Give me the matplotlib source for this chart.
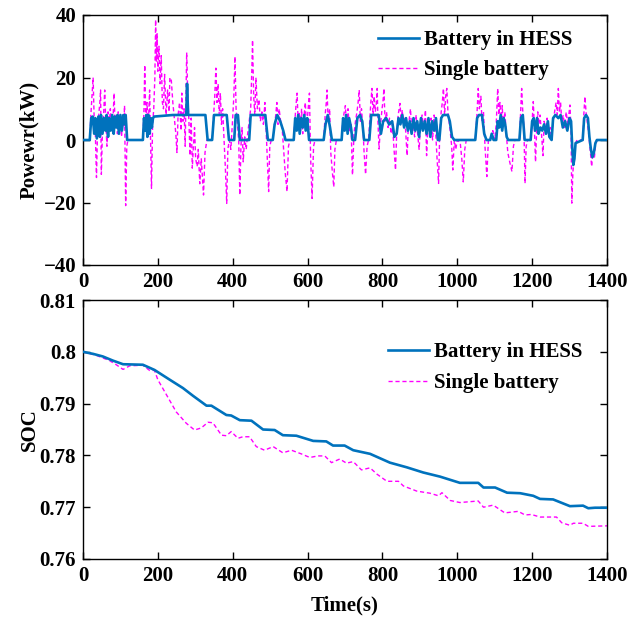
import matplotlib
matplotlib.use("Agg")
import matplotlib.pyplot as plt

# ---------------- data ----------------
hess_t = [0, 18, 22, 26, 30, 33, 37, 41, 45, 48, 52, 56, 60, 63, 67, 70, 74, 78, 82, 85, 89, 92, 96, 100,
          104, 108, 112, 114, 118, 160, 163, 166, 169, 172, 175, 178, 181, 184, 187, 190, 200, 240, 276,
          278, 281, 290, 327, 333, 345, 350, 384, 390, 404, 408, 414, 419, 444, 448, 487, 494, 507, 512,
          519, 527, 535, 541, 563, 567, 571, 575, 579, 583, 587, 591, 595, 599, 604, 643, 648, 654, 660,
          665, 691, 695, 699, 703, 707, 711, 716, 720, 727, 733, 740, 746, 751, 765, 770, 790, 796, 802,
          810, 818, 826, 832, 838, 843, 848, 853, 858, 863, 868, 873, 878, 883, 888, 893, 898, 903, 908,
          913, 918, 923, 928, 933, 938, 943, 948, 952, 957, 962, 975, 980, 986, 992, 1048, 1053, 1058,
          1066, 1072, 1078, 1088, 1092, 1097, 1104, 1108, 1112, 1116, 1120, 1124, 1128, 1132, 1136, 1166,
          1170, 1175, 1180, 1196, 1200, 1204, 1208, 1213, 1217, 1222, 1227, 1232, 1237, 1242, 1246, 1252,
          1256, 1262, 1270, 1276, 1282, 1288, 1294, 1300, 1304, 1307, 1310, 1313, 1316, 1335, 1339, 1344,
          1349, 1353, 1357, 1361, 1365, 1369, 1373, 1400]
hess_p = [0, 0, 7, 7.5, 2, 7, 0.5, 7.5, 1, 8, 2, 7, 3, 8, 1, 7, 3, 8, 2, 7.5, 4, 8, 2, 8,
          3, 8, 5, 8, 0, 0, 7, 3, 8, 1, 8, 2, 7, 4, 7, 7.5, 7.6, 8, 8,
          18, 8, 8, 8, 0, 0, 8, 8, 0, 0, 8, 8, 0, 0, 8, 8, 0, 0, 5,
          8, 6, 3, 0, 0, 7, 3, 8, 2, 7, 4, 8, 3, 7, 0, 0, 5, 8, 4,
          0, 0, 7, 3, 8, 2, 7, 4, 0, 0, 7, 8, 6, 0, 0, 8, 8, 2, 6,
          7, 5, 6, 1, 2, 7, 5, 8, 4, 7, 3, 6, 2, 7, 3, 6, 1, 7, 3,
          6, 2, 7, 1, 6, 3, 7, 0, 0, 7, 8, 8, 6, 1, 0, 0, 7, 8,
          8, 2, 0, 0, 2, 0, 0, 6, 4, 8, 3, 7, 5, 1, 0, 0,
          7, 8, 0, 0, 6, 7, 3, 7, 2, 4, 3, 5, 2, 6, 1, 0,
          7, 8, 7, 8, 4, 6, 3, 7, 6, -2, -8, -6, -1, 0, 7, 8,
          7, 1, -3, -5.5, -4, -1, 0, 0]

single_t = [0, 18, 21, 24, 27, 30, 33, 36, 39, 42, 45, 47, 49, 52, 55, 58, 61, 64, 67, 70, 73, 76, 79, 83,
            86, 89, 92, 94, 97, 100, 103, 106, 109, 111, 114, 117, 120, 160, 163, 165, 168, 171, 174, 178,
            183, 186, 189, 192, 194, 196, 198, 200, 203, 206, 209, 212, 215, 218, 222, 226, 230, 232, 236,
            240, 244, 248, 251, 254, 258, 262, 264, 267, 270, 273, 277, 280, 283, 286, 289, 292, 295, 298,
            301, 305, 308, 312, 316, 319, 322, 326, 331, 345, 349, 352, 355, 358, 361, 364, 367, 370, 373,
            376, 380, 384, 387, 391, 395, 399, 403, 406, 409, 412, 416, 419, 422, 425, 428, 432, 436, 440,
            444, 448, 451, 453, 456, 459, 462, 466, 470, 474, 478, 482, 486, 489, 492, 496, 499, 503, 507,
            511, 515, 518, 521, 524, 528, 532, 536, 540, 545, 549, 553, 563, 566, 569, 572, 575, 578, 581,
            584, 587, 590, 594, 597, 601, 605, 608, 612, 616, 620, 643, 647, 650, 652, 655, 659, 662, 666,
            670, 673, 677, 691, 694, 698, 701, 704, 708, 712, 716, 720, 724, 728, 732, 735, 738, 741, 744,
            748, 751, 755, 759, 763, 766, 769, 772, 775, 778, 781, 784, 786, 788, 791, 795, 799, 802, 804,
            807, 811, 815, 819, 823, 827, 831, 835, 838, 842, 847, 850, 853, 857, 860, 863, 866, 869, 872,
            875, 878, 882, 886, 890, 894, 898, 902, 906, 910, 915, 918, 922, 926, 930, 934, 938, 942, 946,
            950, 953, 957, 960, 963, 966, 969, 972, 975, 978, 981, 985, 988, 992, 996, 1000, 1008, 1012,
            1016, 1020, 1024, 1048, 1052, 1056, 1059, 1063, 1066, 1070, 1074, 1079, 1083, 1090, 1095, 1100,
            1104, 1108, 1111, 1114, 1117, 1120, 1123, 1127, 1131, 1135, 1140, 1146, 1150, 1154, 1166, 1169,
            1172, 1175, 1178, 1181, 1184, 1188, 1196, 1200, 1203, 1206, 1209, 1212, 1215, 1218, 1221, 1225,
            1229, 1232, 1236, 1240, 1244, 1248, 1252, 1256, 1260, 1264, 1267, 1270, 1273, 1276, 1279, 1283,
            1287, 1291, 1295, 1298, 1301, 1304, 1306, 1309, 1312, 1316, 1320, 1336, 1338, 1341, 1344, 1348,
            1351, 1355, 1359, 1362, 1366, 1370, 1374, 1400]
single_p = [0, 0, 8, 14, 20, 6, 2, -12, 4, 8, 12, 16, -11, 3, 8, 16, 5, -2, 9, 4, 10, 6, 3, 15,
            4, 8, 2, 9, 3, 6, 1, 8, 4, 11, -21, -2, 0, 0, 10, 24, 5, 12, 3, 16,
            -15.5, 5, 10, 20, 38.5, 25, 34, 22, 30, 18, 27, 12, 10, 21, 8, 16, 9, 20, 19,
            12, 7, 2, -4, 8, 12, 3, 15, 6, 10, -2, 28, 14, 6, -5, 7, -9, -2, 4,
            -6, -8.5, -3, -14, -6, -12, -17.6, -4, 0, 0, 8, 14, 23, 12, 18, 8, 15, 5, 10,
            2, -8, -20.3, -3, 0, -3, 5, 14, 26.7, 10, 6, 0, -17.6, -2, 4, -7, 1, -3, 2,
            6, 10, 22, 32, 14, 8, 20, 10, 13, 6, 9, 5, 12, 4, -5, -16.5, -2, 0, 0,
            4, 8, 12, 5, 10, 6, 4, -3, -10, -16.5, -2, 0, 0, 6, 11, 15, 5, 9, 3,
            10, 2, 7, 12, 4, 9, 15, -5, -18.7, -2, 0, 0, 8, 12, 16, 6, 10, -4, -10,
            -15, -3, 0, 0, 6, 9, 11, 4, 10, 3, 5, -11.2, 2, 6, 9, 12, 16, 6, 10,
            4, -4, -11, -2, 0, 6, 12, 16.5, 8, 14, 9, 12, 16.5, 6, -2.9, 5, 10, 13, 16.5,
            6, 9, 4, 7, 2, 5, -3, -9.6, 2, 8, 11.7, 6, 9.6, 4, 7, 1, -5, 4, 7,
            10, 3, 6, 1, 8, 2, -3, 5, 8, 3, 9.6, -5, 6, 2, 7, 0, 8, 3, -6,
            -13.9, 2, 9, 12, 16.5, 8, 14, 16.5, 9, 6, 3, -2, -9.6, 0, -3, 0, -1, -6,
            -13.4, -3, 0, 0, 7, 16.5, 10, 14, 6, 9, -2, -11.7, 0, 1, 3, 0,
            5, 16.5, 8, 12, 6, 11, 4, 9, 2, -4, -7, -10.1, -2, 0, 0, 8,
            16.5, 9, 4, -13.9, -2, 0, 0, 6, 12.3, 4, -7, 3, 9, 5, 8, 2,
            -5, 6, 3, 7, 1, 4, 0, 6, 9, 12, 8, 16.5, 9, 12, 6, 8,
            4, 9, 5, 8, 11.2, 3, -20.2, -10, -6, -1, 0, 0, 8, 13.9, 9, 5,
            2, -3, -8.5, -4, -6, -1, 0, 0]

soc_hess_t = [0, 27, 53, 80, 107, 160, 191, 232, 267, 294, 330, 343, 383, 396, 419, 450, 481, 512, 534,
              570, 615, 650, 668, 699, 722, 767, 820, 865, 909, 954, 1007, 1056, 1070, 1101, 1133, 1168,
              1203, 1221, 1256, 1301, 1336, 1350, 1368, 1400]
soc_hess = [0.8000, 0.7996, 0.7991, 0.7983, 0.7976, 0.7975, 0.7965, 0.7946, 0.7930, 0.7915, 0.7896,
            0.7896, 0.7878, 0.7877, 0.7868, 0.7867, 0.7850, 0.7849, 0.7839, 0.7838, 0.7828, 0.7827,
            0.7819, 0.7819, 0.7810, 0.7803, 0.7786, 0.7777, 0.7767, 0.7759, 0.7747, 0.7747, 0.7738,
            0.7738, 0.7728, 0.7727, 0.7722, 0.7716, 0.7715, 0.7702, 0.7703, 0.7698, 0.7699, 0.7699]

soc_single_t = [0, 36, 71, 89, 107, 125, 160, 178, 191, 200, 223, 249, 276, 298, 316, 334, 347, 370, 383,
                396, 414, 427, 445, 463, 485, 508, 534, 557, 583, 606, 628, 646, 664, 686, 704, 722, 744,
                767, 785, 812, 843, 856, 892, 927, 950, 959, 981, 1007, 1056, 1070, 1096, 1127, 1163,
                1181, 1198, 1221, 1265, 1279, 1301, 1310, 1336, 1350, 1400]
soc_single = [0.8000, 0.7993, 0.7983, 0.7975, 0.7966, 0.7973, 0.7974, 0.7964, 0.7964, 0.7946, 0.7917,
              0.7884, 0.7862, 0.7849, 0.7853, 0.7864, 0.7863, 0.7839, 0.7838, 0.7846, 0.7833, 0.7836,
              0.7836, 0.7817, 0.7810, 0.7817, 0.7805, 0.7810, 0.7803, 0.7796, 0.7799, 0.7799, 0.7786,
              0.7793, 0.7785, 0.7788, 0.7772, 0.7776, 0.7764, 0.7750, 0.7750, 0.7741, 0.7731, 0.7727,
              0.7722, 0.7728, 0.7713, 0.7709, 0.7712, 0.7700, 0.7704, 0.7689, 0.7692, 0.7685, 0.7686,
              0.7681, 0.7681, 0.7670, 0.7665, 0.7669, 0.7669, 0.7663, 0.7664]

labels = ["Battery in HESS", "Single battery"]
x_ticks = [0, 200, 400, 600, 800, 1000, 1200, 1400]
p_ticks = [-40, -20, 0, 20, 40]
soc_ticks = [0.76, 0.77, 0.78, 0.79, 0.80, 0.81]
soc_tick_labels = ["0.76", "0.77", "0.78", "0.79", "0.8", "0.81"]

# ---------------- style ----------------
plt.rcParams['font.family'] = ['Liberation Serif', 'DejaVu Serif']
plt.rcParams['font.weight'] = 'bold'
plt.rcParams['font.size'] = 15
plt.rcParams['axes.labelweight'] = 'bold'

BLUE = '#0072BD'
MAG = '#FF00FF'

fig = plt.figure(figsize=(6.43, 6.19), dpi=100)
W, H = 643, 619
ax1 = fig.add_axes([83 / W, 1 - 265 / H, 524 / W, 250 / H])
ax2 = fig.add_axes([83 / W, 1 - 559 / H, 524 / W, 259 / H])

def style(ax):
    ax.tick_params(direction='in', top=True, right=True, length=5, width=1, labelsize=15, pad=5)
    for s in ax.spines.values():
        s.set_linewidth(1.0)
    for lab in ax.get_xticklabels() + ax.get_yticklabels():
        lab.set_fontweight('bold')

# top panel
ax1.plot(single_t, single_p, color=MAG, lw=1.0, ls=(0, (3, 2)), label=labels[1], zorder=2)
ax1.plot(hess_t, hess_p, color=BLUE, lw=1.9, label=labels[0], zorder=3)
ax1.set_xlim(0, 1400)
ax1.set_ylim(-40, 40)
ax1.set_xticks(x_ticks)
ax1.set_yticks(p_ticks)
ax1.set_ylabel("Powewr(kW)", fontsize=15, fontweight='bold', labelpad=3)
style(ax1)
h, l = ax1.get_legend_handles_labels()
ax1.legend([h[1], h[0]], [l[1], l[0]], loc='upper left', bbox_to_anchor=(0.563, 0.94),
           frameon=False, borderpad=0, borderaxespad=0, handlelength=1.95, handletextpad=0.25,
           labelspacing=0.5, prop={'weight': 'bold', 'size': 15})

# bottom panel
ax2.plot(soc_single_t, soc_single, color=MAG, lw=1.0, ls=(0, (3, 2)), label=labels[1], zorder=2)
ax2.plot(soc_hess_t, soc_hess, color=BLUE, lw=1.9, label=labels[0], zorder=3)
ax2.set_xlim(0, 1400)
ax2.set_ylim(0.76, 0.81)
ax2.set_xticks(x_ticks)
ax2.set_yticks(soc_ticks)
ax2.set_yticklabels(soc_tick_labels)
ax2.set_ylabel("SOC", fontsize=15, fontweight='bold', labelpad=0)
ax2.set_xlabel("Time(s)", fontsize=15, fontweight='bold', labelpad=7)
style(ax2)
h, l = ax2.get_legend_handles_labels()
ax2.legend([h[1], h[0]], [l[1], l[0]], loc='upper left', bbox_to_anchor=(0.582, 0.836),
           frameon=False, borderpad=0, borderaxespad=0, handlelength=1.95, handletextpad=0.25,
           labelspacing=0.5, prop={'weight': 'bold', 'size': 15})

fig.savefig("out.png", dpi=100)
